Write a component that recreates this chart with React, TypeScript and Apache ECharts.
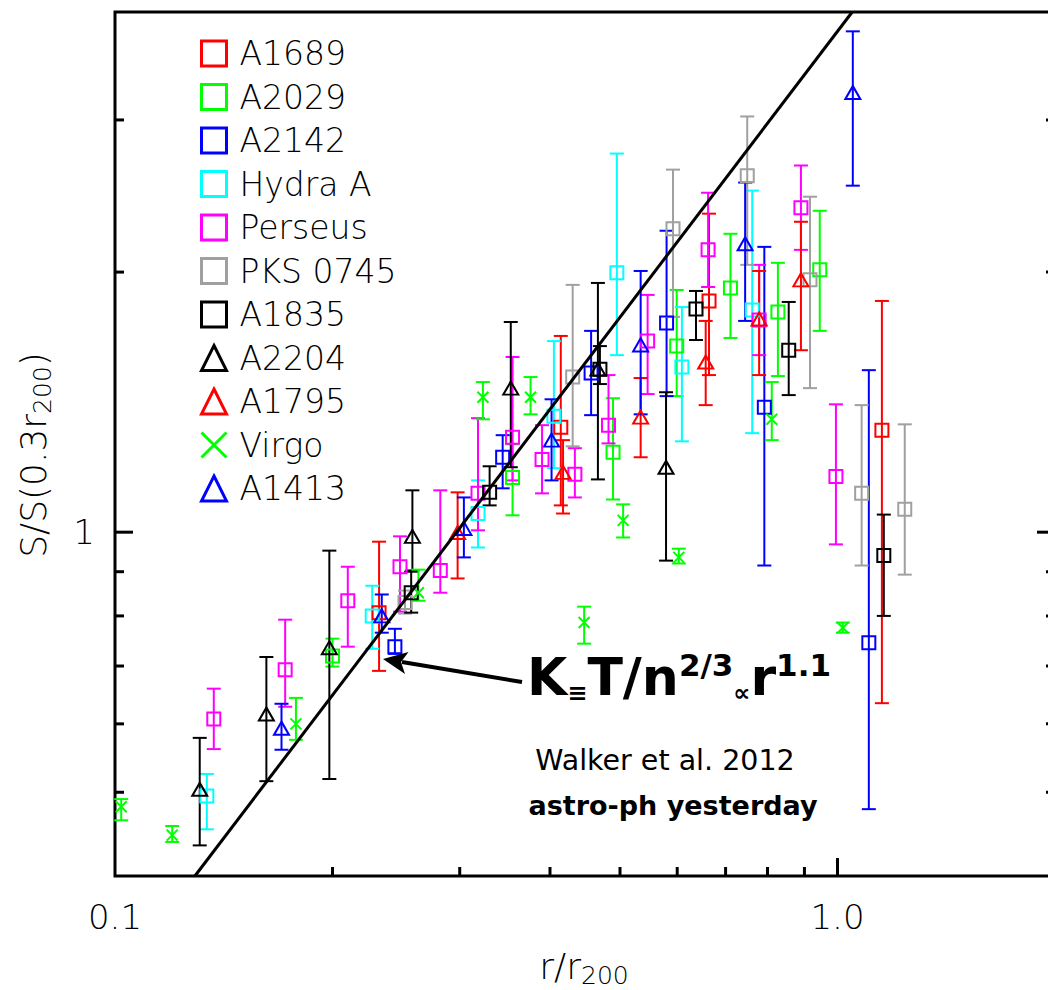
import React, { useEffect, useRef } from "react";
import * as echarts from "echarts";

// Axis ranges (log-log)
const X_MIN = 0.1;
const X_MAX = 2.0;
const Y_MIN = 0.4;
const Y_MAX = 4.0;

// Tick values
const X_MINOR_TICKS = [0.2, 0.3, 0.4, 0.5, 0.6, 0.7, 0.8, 0.9];
const X_MAJOR_TICKS = [1.0];
const Y_MINOR_TICKS = [0.5, 0.6, 0.7, 0.8, 0.9, 2, 3];
const Y_MAJOR_TICKS = [1];
const X_TICK_LABELS = ["0.1", "1.0"];
const Y_TICK_LABELS = ["1"];

// Each point: [r/r200, S/S(0.3r200), lower error, upper error]
const A1689 = [
  [0.232, 0.807, 0.691, 0.975],
  [0.414, 1.323, 1.074, 1.687],
  [0.664, 1.852, 1.52, 2.337],
  [1.152, 1.312, 0.634, 1.852],
];
const A2029 = [
  [0.2, 0.719, 0.699, 0.753],
  [0.355, 1.157, 1.046, 1.264],
  [0.489, 1.237, 1.091, 1.429],
  [0.599, 1.642, 1.437, 1.907],
  [0.711, 1.917, 1.678, 2.215],
  [0.827, 1.798, 1.516, 2.05],
  [0.945, 2.012, 1.71, 2.355],
];
const A2142 = [
  [0.244, 0.737, 0.723, 0.773],
  [0.344, 1.221, 1.124, 1.295],
  [0.456, 1.528, 1.366, 1.71],
  [0.58, 1.746, 1.437, 2.233],
  [0.792, 1.395, 0.915, 2.139],
  [1.105, 0.745, 0.478, 1.54],
];
const HYDRA_A = [
  [0.134, 0.495, 0.453, 0.525],
  [0.227, 0.8, 0.733, 0.867],
  [0.318, 1.051, 0.96, 1.148],
  [0.405, 1.362, 1.186, 1.664],
  [0.495, 1.996, 1.603, 2.743],
  [0.609, 1.553, 1.274, 1.822],
  [0.762, 1.808, 1.302, 2.485],
];
const PERSEUS = [
  [0.137, 0.608, 0.561, 0.659],
  [0.172, 0.693, 0.628, 0.792],
  [0.21, 0.833, 0.737, 0.912],
  [0.248, 0.912, 0.809, 0.989],
  [0.282, 0.903, 0.851, 1.118],
  [0.318, 1.109, 1.005, 1.355],
  [0.355, 1.288, 1.148, 1.595],
  [0.39, 1.214, 1.109, 1.33],
  [0.433, 1.167, 1.097, 1.251],
  [0.482, 1.33, 1.267, 1.52],
  [0.546, 1.664, 1.445, 1.882],
  [0.662, 2.122, 1.922, 2.471],
  [0.779, 1.76, 1.603, 2.039],
  [0.89, 2.374, 2.122, 2.657],
  [0.995, 1.16, 0.968, 1.406],
];
const PKS_0745 = [
  [0.252, 0.829, 0.805, 0.856],
  [0.43, 1.512, 1.257, 1.933],
  [0.592, 2.245, 1.775, 2.628],
  [0.75, 2.586, 2.039, 3.028],
  [0.916, 1.959, 1.468, 2.445],
  [1.08, 1.109, 0.915, 1.403],
  [1.239, 1.063, 0.893, 1.333],
];
const A1835 = [
  [0.257, 0.851, 0.807, 0.9],
  [0.33, 1.112, 1.074, 1.192],
  [0.469, 1.544, 1.484, 1.642],
  [0.637, 1.813, 1.669, 1.902],
  [0.856, 1.624, 1.441, 1.847],
  [1.159, 0.94, 0.8, 1.048],
];
const A2204 = [
  [0.131, 0.504, 0.434, 0.578],
  [0.162, 0.616, 0.515, 0.717],
  [0.198, 0.735, 0.518, 0.952],
  [0.258, 0.989, 0.903, 1.118],
  [0.353, 1.468, 1.189, 1.751],
  [0.466, 1.544, 1.151, 1.943],
  [0.579, 1.189, 0.927, 1.452],
];
const A1795 = [
  [0.298, 0.999, 0.884, 1.112],
  [0.417, 1.173, 1.051, 1.278],
  [0.534, 1.359, 1.221, 1.508],
  [0.657, 1.574, 1.403, 1.756],
  [0.779, 1.765, 1.52, 2.006],
  [0.89, 1.959, 1.624, 2.287],
];
const VIRGO = [
  [0.102, 0.481, 0.464, 0.491],
  [0.12, 0.446, 0.438, 0.457],
  [0.178, 0.6, 0.575, 0.643],
  [0.263, 0.851, 0.833, 0.905],
  [0.323, 1.433, 1.351, 1.492],
  [0.376, 1.433, 1.369, 1.512],
  [0.446, 0.786, 0.743, 0.82],
  [0.505, 1.032, 0.986, 1.077],
  [0.603, 0.935, 0.92, 0.957],
  [0.811, 1.351, 1.278, 1.492],
  [1.017, 0.775, 0.765, 0.786],
];
const A1413 = [
  [0.17, 0.593, 0.56, 0.633],
  [0.234, 0.8, 0.765, 0.847],
  [0.304, 1.01, 0.935, 1.097],
  [0.402, 1.278, 1.148, 1.425],
  [0.534, 1.647, 1.369, 2.006],
  [0.745, 2.157, 1.756, 2.539],
  [1.05, 3.228, 2.518, 3.799],
];

// K ∝ r^1.1 reference line endpoints
const FIT_LINE = [
  [0.129, 0.4],
  [1.048, 4.0],
];

const CROSS = "path://M0,0L12,12M12,0L0,12";

const CLUSTERS = [
  { name: "A1689", color: "#ff0000", shape: "square", data: A1689 },
  { name: "A2029", color: "#00ff00", shape: "square", data: A2029 },
  { name: "A2142", color: "#0000ff", shape: "square", data: A2142 },
  { name: "Hydra A", color: "#00ffff", shape: "square", data: HYDRA_A },
  { name: "Perseus", color: "#ff00ff", shape: "square", data: PERSEUS },
  { name: "PKS 0745", color: "#a0a0a0", shape: "square", data: PKS_0745 },
  { name: "A1835", color: "#000000", shape: "square", data: A1835 },
  { name: "A2204", color: "#000000", shape: "triangle", data: A2204 },
  { name: "A1795", color: "#ff0000", shape: "triangle", data: A1795 },
  { name: "Virgo", color: "#00ff00", shape: "cross", data: VIRGO },
  { name: "A1413", color: "#0000ff", shape: "triangle", data: A1413 },
];

const LIGHT_FONT = "DejaVu Sans";
const LIGHT_WEIGHT = 200;

function symbolOf(shape: string) {
  if (shape === "square") return { symbol: "rect", size: 13 };
  if (shape === "triangle") return { symbol: "triangle", size: [15, 13] };
  return { symbol: CROSS, size: 11 };
}

function errorRender(color: string) {
  return (params: any, api: any) => {
    const x = api.value(0);
    const p1 = api.coord([x, api.value(2)]);
    const p2 = api.coord([x, api.value(3)]);
    const w = 7;
    const st = { stroke: color, lineWidth: 2 };
    return {
      type: "group",
      children: [
        { type: "line", shape: { x1: p1[0], y1: p1[1], x2: p2[0], y2: p2[1] }, style: st },
        { type: "line", shape: { x1: p1[0] - w, y1: p1[1], x2: p1[0] + w, y2: p1[1] }, style: st },
        { type: "line", shape: { x1: p2[0] - w, y1: p2[1], x2: p2[0] + w, y2: p2[1] }, style: st },
      ],
    };
  };
}

// tick renderer: value(0), value(1) = anchor on axis; value(2)=dx, value(3)=dy
function tickRender(params: any, api: any) {
  const p = api.coord([api.value(0), api.value(1)]);
  return {
    type: "line",
    shape: { x1: p[0], y1: p[1], x2: p[0] + api.value(2), y2: p[1] + api.value(3) },
    style: { stroke: "#000", lineWidth: 3 },
  };
}

export default function App() {
  const ref = useRef<HTMLDivElement>(null);

  useEffect(() => {
    if (!ref.current) return;
    const chart = echarts.init(ref.current, null, { renderer: "svg" });

    const tickData: number[][] = [];
    X_MINOR_TICKS.forEach((v) => tickData.push([v, Y_MIN, 0, -9]));
    X_MAJOR_TICKS.forEach((v) => tickData.push([v, Y_MIN, 0, -18]));
    Y_MINOR_TICKS.forEach((v) => {
      tickData.push([X_MIN, v, 9, 0]);
      tickData.push([X_MAX, v, -9, 0]);
    });
    Y_MAJOR_TICKS.forEach((v) => {
      tickData.push([X_MIN, v, 18, 0]);
      tickData.push([X_MAX, v, -18, 0]);
    });

    const series: any[] = [
      {
        type: "custom",
        name: "ticks",
        renderItem: tickRender,
        data: tickData,
        encode: { x: 0, y: 1 },
        silent: true,
        z: 5,
      },
    ];

    CLUSTERS.forEach((c, i) => {
      series.push({
        type: "custom",
        name: c.name + " err",
        renderItem: errorRender(c.color),
        data: c.data,
        encode: { x: 0, y: 1 },
        silent: true,
        z: 2 + i * 0.01,
      });
    });
    CLUSTERS.forEach((c, i) => {
      const s = symbolOf(c.shape);
      series.push({
        type: "scatter",
        name: c.name,
        data: c.data.map((d) => [d[0], d[1]]),
        symbol: s.symbol,
        symbolSize: s.size,
        itemStyle: { color: "transparent", borderColor: c.color, borderWidth: 2, opacity: 1 },
        z: 3 + i * 0.01,
      });
    });
    series.push({
      type: "line",
      name: "fit",
      data: FIT_LINE,
      symbol: "none",
      lineStyle: { color: "#000", width: 3 },
      z: 4,
      silent: true,
    });

    const lightText = { fontFamily: LIGHT_FONT, fontWeight: LIGHT_WEIGHT, color: "#000" };

    const option: any = {
      animation: false,
      backgroundColor: "#fff",
      grid: {
        left: 115,
        right: 1,
        top: 12,
        bottom: 114,
        show: true,
        borderColor: "#000",
        borderWidth: 3,
        backgroundColor: "transparent",
      },
      xAxis: {
        type: "log",
        logBase: 10,
        min: X_MIN,
        max: X_MAX,
        axisLine: { show: false },
        axisTick: { show: false },
        splitLine: { show: false },
        axisLabel: {
          ...lightText,
          margin: 24,
          fontSize: 34,
          showMaxLabel: false,
          formatter: (v: number) =>
            Math.abs(v - 0.1) < 1e-6 ? X_TICK_LABELS[0] : Math.abs(v - 1) < 1e-6 ? X_TICK_LABELS[1] : "",
        },
      },
      yAxis: {
        type: "log",
        logBase: 10,
        min: Y_MIN,
        max: Y_MAX,
        axisLine: { show: false },
        axisTick: { show: false },
        splitLine: { show: false },
        axisLabel: {
          ...lightText,
          margin: 20,
          fontSize: 34,
          formatter: (v: number) => (Math.abs(v - 1) < 1e-6 ? Y_TICK_LABELS[0] : ""),
        },
      },
      legend: {
        orient: "vertical",
        left: 200,
        top: 37,
        padding: 0,
        itemGap: 10.5,
        itemWidth: 25,
        itemHeight: 25,
        selectedMode: false,
        textStyle: {
          ...lightText,
          fontSize: 33,
          padding: [0, 0, 0, 8],
        },
        data: CLUSTERS.map((c) => ({
          name: c.name,
          icon: symbolOf(c.shape).symbol,
          itemStyle: { color: "transparent", borderColor: c.color, borderWidth: 3 },
        })),
      },
      graphic: [
        // y-axis title
        {
          type: "text",
          x: 33,
          y: 455,
          rotation: Math.PI / 2,
          style: {
            text: "{n|S/S(0.3r}{s|200}{n|)}",
            align: "center",
            verticalAlign: "middle",
            rich: {
              n: { fontSize: 36, fontFamily: LIGHT_FONT, fontWeight: LIGHT_WEIGHT, fill: "#000", lineHeight: 44 },
              s: { fontSize: 25, fontFamily: LIGHT_FONT, fontWeight: LIGHT_WEIGHT, fill: "#000", lineHeight: 22, verticalAlign: "bottom" },
            },
          },
        },
        // x-axis title
        {
          type: "text",
          x: 584,
          y: 966,
          style: {
            text: "{n|r/r}{s|200}",
            align: "center",
            verticalAlign: "middle",
            rich: {
              n: { fontSize: 36, fontFamily: LIGHT_FONT, fontWeight: LIGHT_WEIGHT, fill: "#000", lineHeight: 44 },
              s: { fontSize: 25, fontFamily: LIGHT_FONT, fontWeight: LIGHT_WEIGHT, fill: "#000", lineHeight: 22, verticalAlign: "bottom" },
            },
          },
        },
        // arrow
        {
          type: "line",
          shape: { x1: 522, y1: 682, x2: 402, y2: 662 },
          style: { stroke: "#000", lineWidth: 4 },
          z: 10,
        },
        {
          type: "polygon",
          shape: { points: [[383, 659], [408.5, 652], [401, 662], [405, 674]] },
          style: { fill: "#000" },
          z: 10,
        },
        // K formula
        {
          type: "text",
          x: 527,
          y: 677,
          z: 10,
          style: {
            text: "{b|K}{m|≡}{b|T/n}{p|2/3}{m|∝}{b|r}{p|1.1}",
            align: "left",
            verticalAlign: "middle",
            rich: {
              b: { fontSize: 52, fontFamily: "DejaVu Sans", fontWeight: "bold", fill: "#000", lineHeight: 56 },
              p: { fontSize: 31, fontFamily: "DejaVu Sans", fontWeight: "bold", fill: "#000", lineHeight: 56, verticalAlign: "top" },
              m: { fontSize: 24, fontFamily: "DejaVu Sans", fontWeight: "bold", fill: "#000", lineHeight: 42, verticalAlign: "bottom" },
            },
          },
        },
        {
          type: "text",
          x: 665,
          y: 760,
          z: 10,
          style: {
            text: "Walker et al. 2012",
            align: "center",
            verticalAlign: "middle",
            fontSize: 28.5,
            fontFamily: "DejaVu Sans",
            fill: "#000",
          },
        },
        {
          type: "text",
          x: 673,
          y: 805,
          z: 10,
          style: {
            text: "astro-ph yesterday",
            align: "center",
            verticalAlign: "middle",
            fontSize: 27,
            fontWeight: "bold",
            fontFamily: "DejaVu Sans",
            fill: "#000",
          },
        },
      ],
      series,
    };

    chart.setOption(option);
    return () => chart.dispose();
  }, []);

  return (
    <div
      style={{
        position: "absolute",
        left: 0,
        top: 0,
        width: 1048,
        height: 990,
        overflow: "hidden",
        background: "#fff",
      }}
    >
      <div ref={ref} style={{ width: 1056, height: 990 }} />
    </div>
  );
}
